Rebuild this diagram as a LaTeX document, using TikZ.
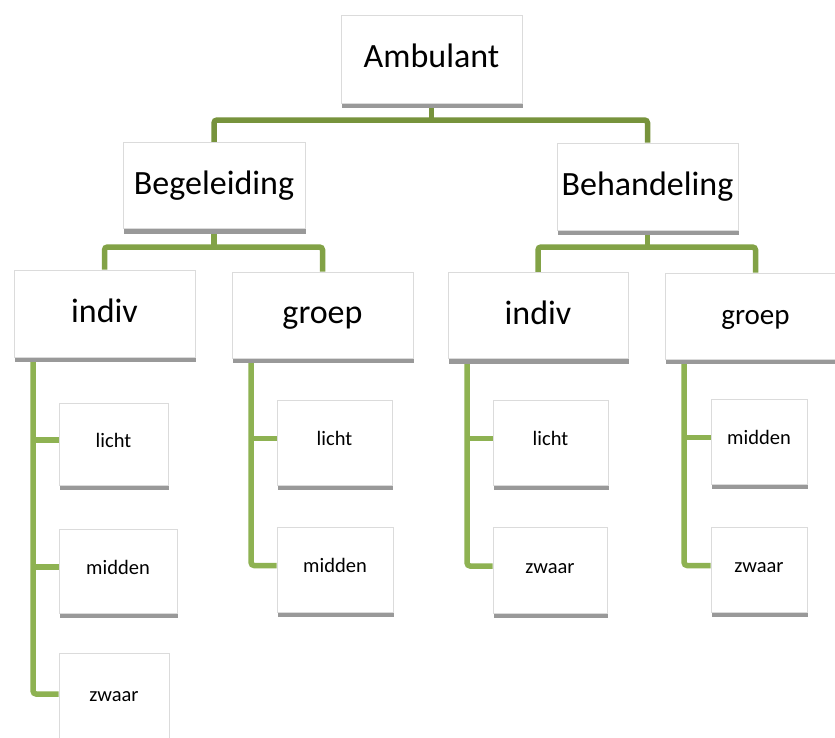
\documentclass[tikz,border=0pt]{standalone}
\usepackage{fontspec}
\setmainfont{Carlito}
\usetikzlibrary{shadows,calc}
\pgfdeclarelayer{background}
\pgfsetlayers{background,main}
\definecolor{lineA}{RGB}{119,147,60}
\definecolor{lineB}{RGB}{130,162,70}
\definecolor{lineC}{RGB}{142,178,82}
\begin{document}
\begin{tikzpicture}[x=1pt,y=-1pt,
  box/.style={rectangle, fill=white, draw=black!14, line width=0.8pt, inner sep=0pt,
    drop shadow={shadow xshift=1pt, shadow yshift=-5pt, fill=black!40, opacity=1}},
  big/.style={box, font=\fontsize{34}{40}\selectfont, text height=24pt, text depth=7pt},
  leaf/.style={box, font=\fontsize{20.5}{24}\selectfont, text height=14pt, text depth=8pt},
  conn/.style={line width=5.5pt, rounded corners=3pt}]
\useasboundingbox (0,0) rectangle (835,737);
\begin{pgfonlayer}{background}
\fill[white] (0,0) rectangle (835,737);
\end{pgfonlayer}
\clip (0,0) rectangle (835,737);
% level 0 and 1
\node[big, minimum width=181pt, minimum height=88pt] (amb) at (431.5,59) {Ambulant};
\node[big, minimum width=182pt, minimum height=86pt] (beg) at (214,185.5) {Begeleiding};
\node[big, minimum width=181pt, minimum height=87pt] (beh) at (647.5,186.5) {Behandeling};
% level 2
\node[big, minimum width=181pt, minimum height=87pt] (iL) at (104.5,313.5) {indiv};
\node[big, minimum width=181pt, minimum height=86pt] (gL) at (322.5,315) {groep};
\node[big, minimum width=180pt, minimum height=86pt] (iR) at (538,315.5) {indiv};
\node[big, font=\fontsize{29}{34}\selectfont, minimum width=181pt, minimum height=86pt] (gR) at (755.5,316) {groep};
% leaves
\node[leaf, minimum width=109pt, minimum height=82pt] (Ll) at (113.5,444) {licht};
\node[leaf, minimum width=118pt, minimum height=84pt] (Lm) at (118,571) {midden};
\node[leaf, minimum width=110pt, minimum height=90pt] (Lz) at (114,698) {zwaar};
\node[leaf, minimum width=115pt, minimum height=85pt] (Gl) at (334.5,442.5) {licht};
\node[leaf, minimum width=116pt, minimum height=85pt] (Gm) at (335,569.5) {midden};
\node[leaf, minimum width=115pt, minimum height=85pt] (Rl) at (550.5,442.5) {licht};
\node[leaf, minimum width=114pt, minimum height=86pt] (Rz) at (550,570) {zwaar};
\node[leaf, minimum width=96pt, minimum height=85pt] (Hm) at (759,441.5) {midden};
\node[leaf, minimum width=96pt, minimum height=85pt] (Hz) at (759,569.5) {zwaar};
% helper coordinates
\coordinate (b0) at (0,120);
\coordinate (b1) at (0,247);
\coordinate (tL) at ($(iL.south west)+(19.5,0)$);
\coordinate (tG) at ($(gL.south west)+(19.5,0)$);
\coordinate (tR) at ($(iR.south west)+(19.5,0)$);
\coordinate (tH) at ($(gR.south west)+(19.5,0)$);
\foreach \n in {Ll,Lm,Lz,Gl,Gm,Rl,Rz,Hm,Hz}{
  \coordinate (\n-c) at ($(\n.west)+(0,-4)$);
}
\begin{pgfonlayer}{background}
\draw[conn, lineA] (amb.south) -- (amb.south |- b0);
\draw[conn, lineA] (beg.north) |- (amb.south |- b0) -| (beh.north);
\draw[conn, lineB] (beg.south) -- (beg.south |- b1);
\draw[conn, lineB] (iL.north) |- (beg.south |- b1) -| (gL.north);
\draw[conn, lineB] (beh.south) -- (beh.south |- b1);
\draw[conn, lineB] (iR.north) |- (beh.south |- b1) -| (gR.north);
% leaf trunks
\draw[conn, lineC] (tL) |- (Lz-c);
\draw[conn, lineC] (Ll-c) -- (Ll-c -| tL);
\draw[conn, lineC] (Lm-c) -- (Lm-c -| tL);
\draw[conn, lineC] (tG) |- (Gm-c);
\draw[conn, lineC] (Gl-c) -- (Gl-c -| tG);
\draw[conn, lineC] (tR) |- (Rz-c);
\draw[conn, lineC] (Rl-c) -- (Rl-c -| tR);
\draw[conn, lineC] (tH) |- (Hz-c);
\draw[conn, lineC] (Hm-c) -- (Hm-c -| tH);
\end{pgfonlayer}
\end{tikzpicture}
\end{document}
